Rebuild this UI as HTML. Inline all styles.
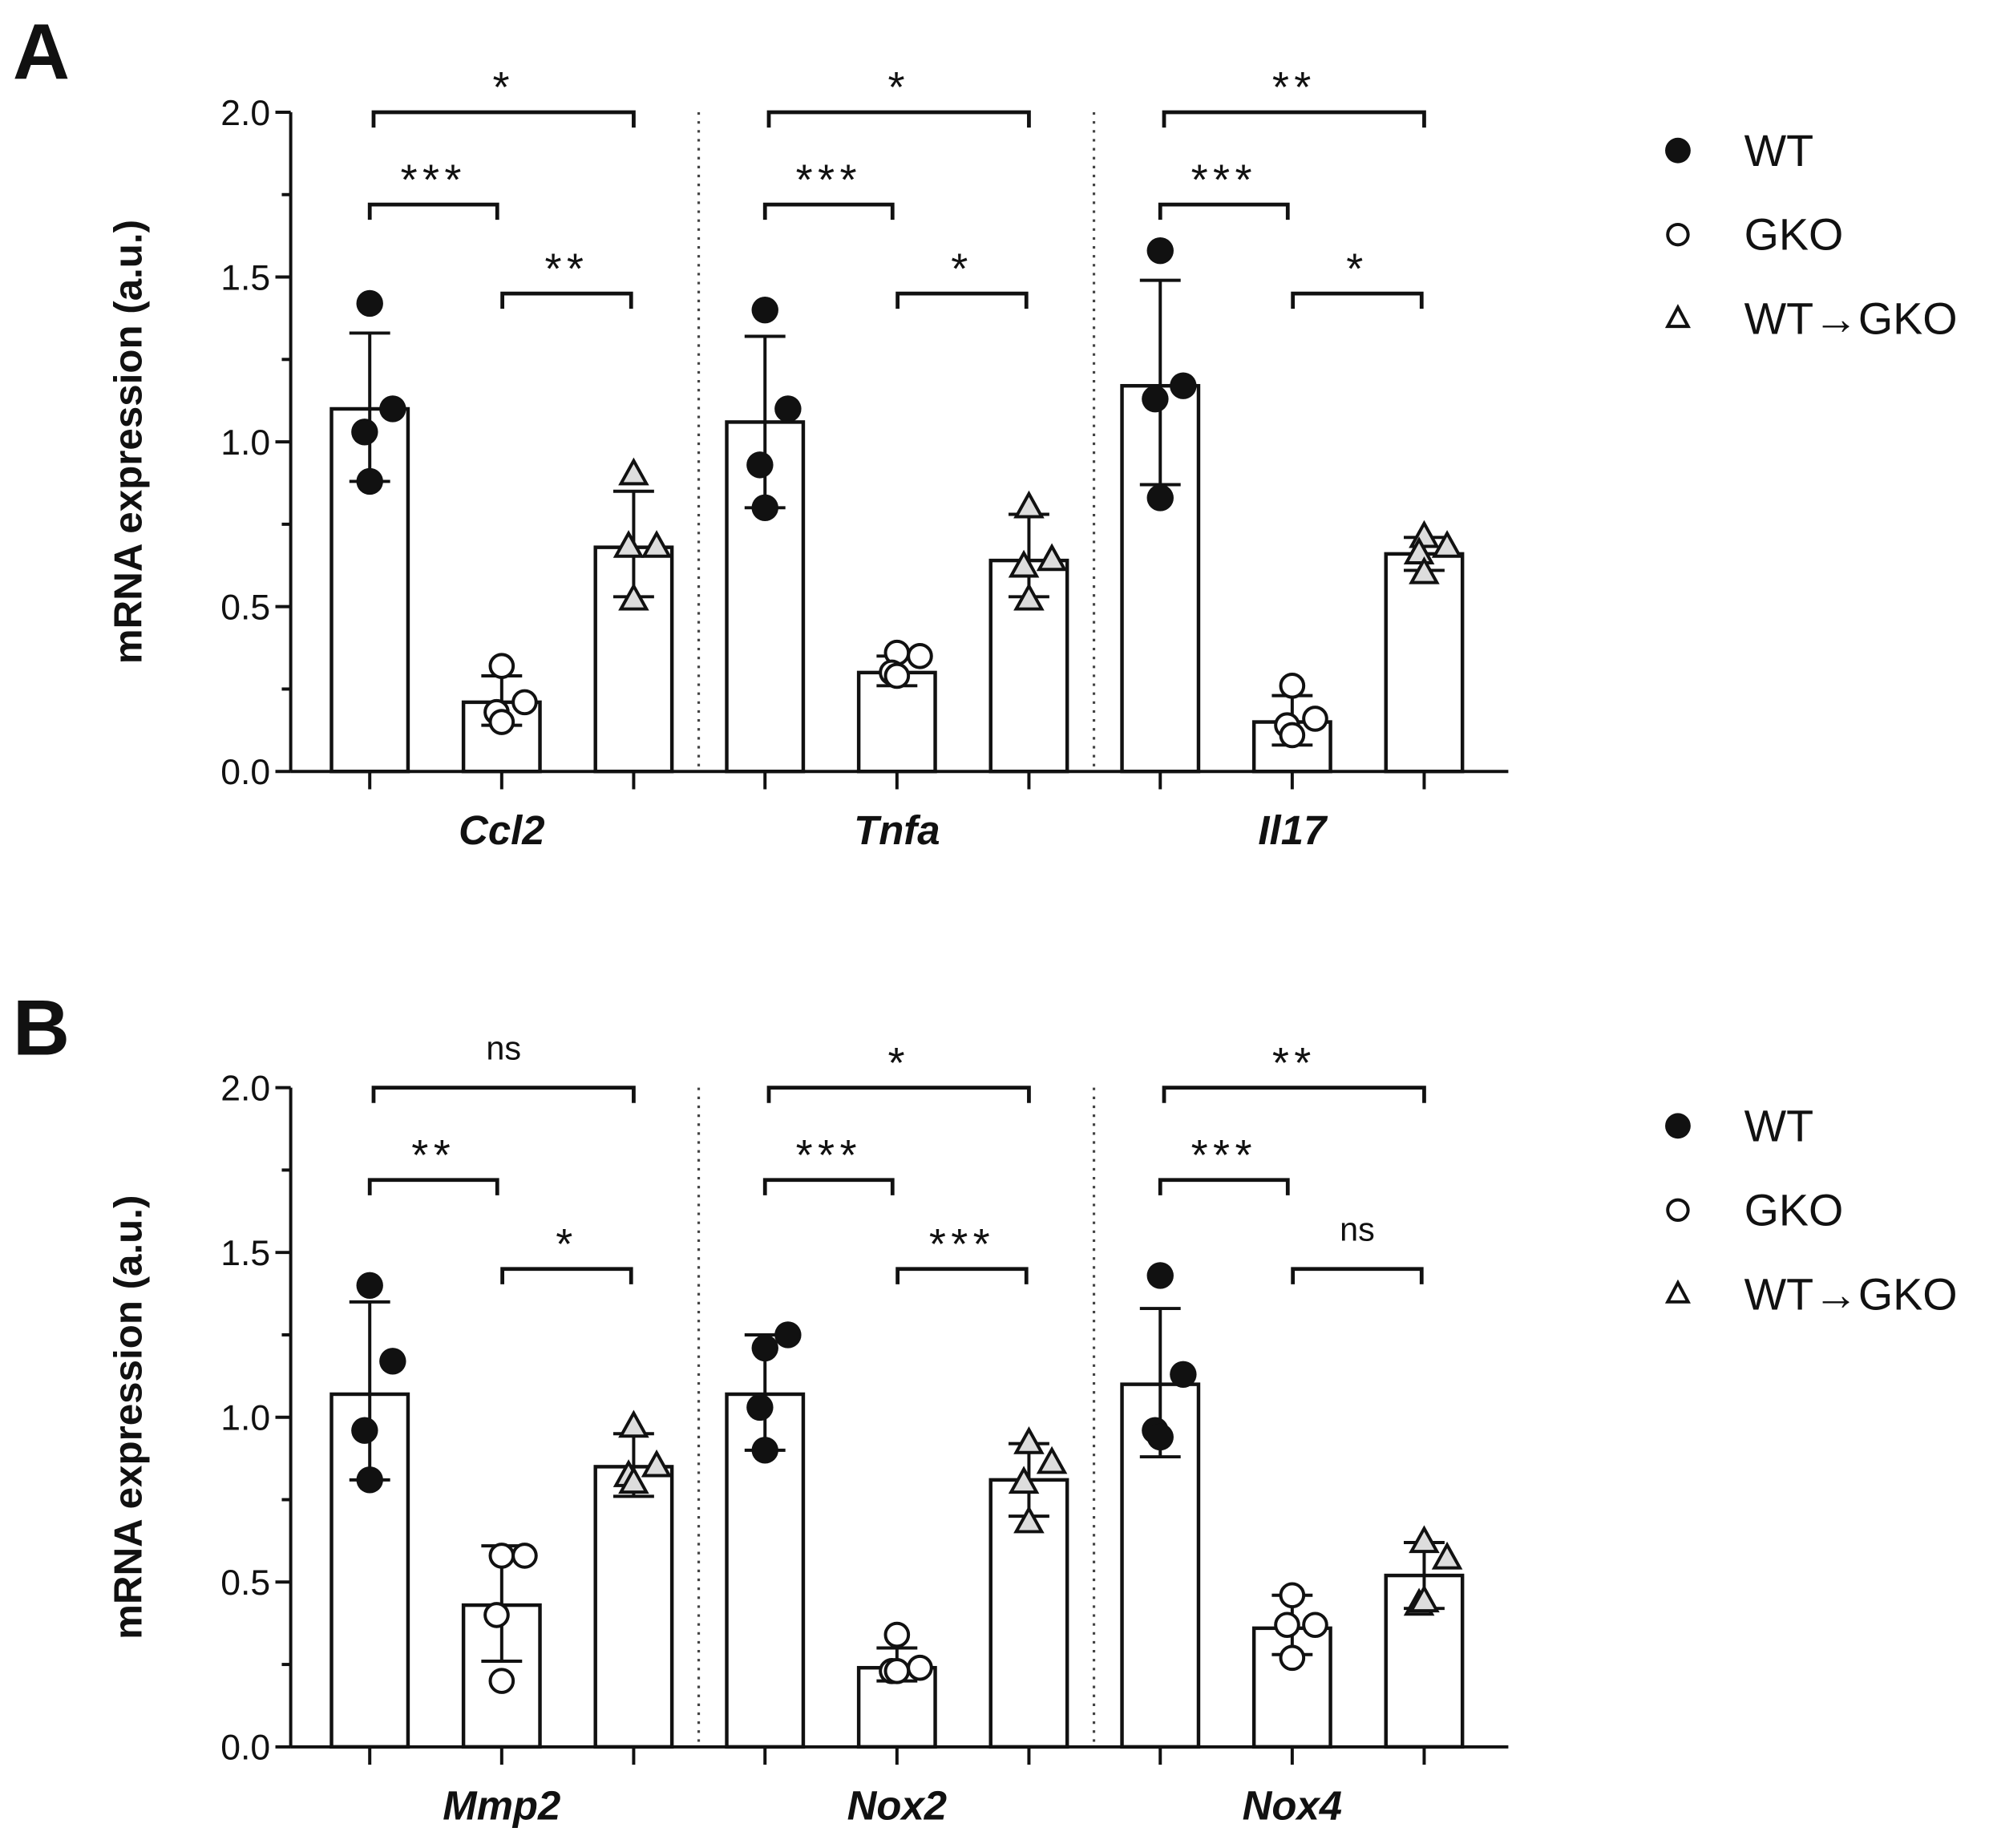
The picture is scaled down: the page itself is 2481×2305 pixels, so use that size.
<!DOCTYPE html>
<html><head><meta charset="utf-8"><style>
html,body{margin:0;padding:0;background:#fff}
svg{display:block}
text{font-family:"Liberation Sans",Arial,sans-serif;fill:#111}
</style></head><body>
<svg id="fig" width="2481" height="2305" viewBox="0 0 1560 1449.3" xmlns="http://www.w3.org/2000/svg"></svg>
<script>
const genesA = ["Ccl2","Tnfa","Il17"];
const genesB = ["Mmp2","Nox2","Nox4"];
const groups = ["WT","GKO","WT→GKO"];
// means per gene: [WT, GKO, WT->GKO]
const meansA = [[1.10,0.21,0.68],[1.06,0.30,0.64],[1.17,0.15,0.66]];
const meansB = [[1.07,0.43,0.85],[1.07,0.24,0.81],[1.10,0.36,0.52]];
// error bar [upper, lower]
const errA = [[[1.33,0.88],[0.29,0.14],[0.85,0.53]],[[1.32,0.80],[0.35,0.26],[0.78,0.53]],[[1.49,0.87],[0.23,0.08],[0.71,0.61]]];
const errB = [[[1.35,0.81],[0.61,0.26],[0.95,0.76]],[[1.25,0.90],[0.30,0.20],[0.92,0.70]],[[1.33,0.88],[0.46,0.28],[0.62,0.42]]];
// individual points
const ptsA = [[[1.42,1.10,1.03,0.88],[0.32,0.21,0.18,0.15],[0.90,0.68,0.68,0.52]],
              [[1.40,1.10,0.93,0.80],[0.36,0.35,0.30,0.29],[0.80,0.64,0.62,0.52]],
              [[1.58,1.17,1.13,0.83],[0.26,0.16,0.14,0.11],[0.71,0.68,0.66,0.60]]];
const ptsB = [[[1.40,1.17,0.96,0.81],[0.58,0.58,0.40,0.20],[0.97,0.85,0.82,0.80]],
              [[1.21,1.25,1.03,0.90],[0.34,0.24,0.23,0.23],[0.92,0.86,0.80,0.68]],
              [[1.43,1.13,0.96,0.94],[0.46,0.37,0.37,0.27],[0.62,0.57,0.43,0.44]]];
// significance labels: [WT vs WT->GKO, WT vs GKO, GKO vs WT->GKO]
const sigA = [["*","***","**"],["*","***","*"],["**","***","*"]];
const sigB = [["ns","**","*"],["*","***","***"],["**","***","ns"]];
const yTicks = [0,0.5,1.0,1.5,2.0];
const yTickLabels = ["0.0","0.5","1.0","1.5","2.0"];
const jitter = [0, 18, -4, 0];

const NS="http://www.w3.org/2000/svg";
const svg=document.getElementById('fig');
function el(tag,attrs,parent,txt){const e=document.createElementNS(NS,tag);for(const k in attrs)e.setAttribute(k,attrs[k]);if(txt!==undefined)e.textContent=txt;(parent||svg).appendChild(e);return e;}

function panel(letter,y0,genes,means,errs,pts,sigs,legY){
  const g=el('g',{});
  
  
  const axX=228, yTop=y0-517;
  const Y=v=>y0-v*258.5;
  const X=(gi,k)=>290+gi*310+k*103.5;
  const t=el('text',{x:10,y:y0-543,'font-size':62,'font-weight':'bold'},g,letter);
  
  
  // y axis
  const ya=el('line',{x1:axX,y1:Y(2),x2:axX,y2:y0,stroke:'#111','stroke-width':2.5},g);
  
  
  for(let v=0;v<=2.001;v+=0.25){const major=Math.abs(v*2-Math.round(v*2))<1e-6;
    el('line',{x1:axX-(major?12:7),y1:Y(v),x2:axX,y2:Y(v),stroke:'#111','stroke-width':2.5},g);}
  yTicks.forEach((v,i)=>{const tl=el('text',{x:axX-16,y:Y(v)+10,'font-size':28,'text-anchor':'end',fill:'#333'},g,yTickLabels[i]);
    
    });
  const yt=el('text',{x:0,y:0,'font-size':31,'font-weight':'bold','text-anchor':'middle',transform:`translate(111,${(Y(2)+y0)/2}) rotate(-90)`},g,'mRNA expression (a.u.)');
  
  
  // x axis
  const xa=el('line',{x1:axX,y1:y0,x2:1183,y2:y0,stroke:'#111','stroke-width':2.5},g);
  
  
  [548,858].forEach(x=>{const d=el('line',{x1:x,y1:Y(2),x2:x,y2:y0,stroke:'#444','stroke-width':2,'stroke-dasharray':'2,5'},g);
    
    });
  genes.forEach((gn,gi)=>{
    const cl=el('text',{x:X(gi,1),y:y0+57,'font-size':32,'font-weight':'bold','font-style':'italic','text-anchor':'middle'},g,gn);
    
    
    for(let k=0;k<3;k++){
      const cx=X(gi,k), m=means[gi][k];
      el('line',{x1:cx,y1:y0,x2:cx,y2:y0+14,stroke:'#111','stroke-width':2.5},g);
      const b=el('rect',{x:cx-30,y:Y(m),width:60,height:y0-Y(m),fill:'#fff',stroke:'#111','stroke-width':2.8},g);
      
      
      const [hi,lo]=errs[gi][k];
      el('line',{x1:cx,y1:Y(hi),x2:cx,y2:Y(lo),stroke:'#111','stroke-width':2.5},g);
      el('line',{x1:cx-16,y1:Y(hi),x2:cx+16,y2:Y(hi),stroke:'#111','stroke-width':2.5},g);
      el('line',{x1:cx-16,y1:Y(lo),x2:cx+16,y2:Y(lo),stroke:'#111','stroke-width':2.5},g);
      pts[gi][k].forEach((v,pi)=>{
        const px=cx+jitter[pi]*(pi===2?1:1), py=Y(v);
        let p;
        if(k===0) p=el('circle',{cx:px,cy:py,r:10.5,fill:'#111'},g);
        else if(k===1) p=el('circle',{cx:px,cy:py,r:9,fill:'#fff',stroke:'#111','stroke-width':2.5},g);
        else p=el('path',{d:`M${px},${py-11} L${px+10},${py+7} L${px-10},${py+7} Z`,fill:'#ddd',stroke:'#111','stroke-width':2.5},g);
        
        
      });
    }
    // significance brackets
    const br=[[0,2,2.0,293,497],[0,1,1.72,290,390],[1,2,1.45,394,495]];
    br.forEach((bb,bi)=>{
      const x1=bb[3]+gi*310, x2=bb[4]+gi*310, by=Y(bb[2]);
      const pth=el('path',{d:`M${x1},${by+12} L${x1},${by} L${x2},${by} L${x2},${by+12}`,fill:'none',stroke:'#111','stroke-width':3},g);
      
      
      const s=sigs[gi][bi];
      const st=el('text',{x:(x1+x2)/2,y:s==='ns'?by-22:by-8,'font-size':s==='ns'?26:34,'text-anchor':'middle','letter-spacing':s==='ns'?0:4,fill:'#222'},g,s);
      
      
    });
  });
  // legend
  groups.forEach((gr,i)=>{
    const ly=legY+i*66, lx=1316;
    let m;
    if(i===0) m=el('circle',{cx:lx,cy:ly,r:10,fill:'#111'},g);
    else if(i===1) m=el('circle',{cx:lx,cy:ly,r:8,fill:'#fff',stroke:'#111','stroke-width':2.5},g);
    else m=el('path',{d:`M${lx},${ly-9} L${lx+8},${ly+6} L${lx-8},${ly+6} Z`,fill:'#fff',stroke:'#111','stroke-width':2.5},g);
    
    
    const lt=el('text',{x:1368,y:ly+12,'font-size':35,fill:'#222'},g,gr);
    
    
  });
}
panel('A',605,genesA,meansA,errA,ptsA,sigA,118);
panel('B',1370,genesB,meansB,errB,ptsB,sigB,883);
</script>
</body></html>
